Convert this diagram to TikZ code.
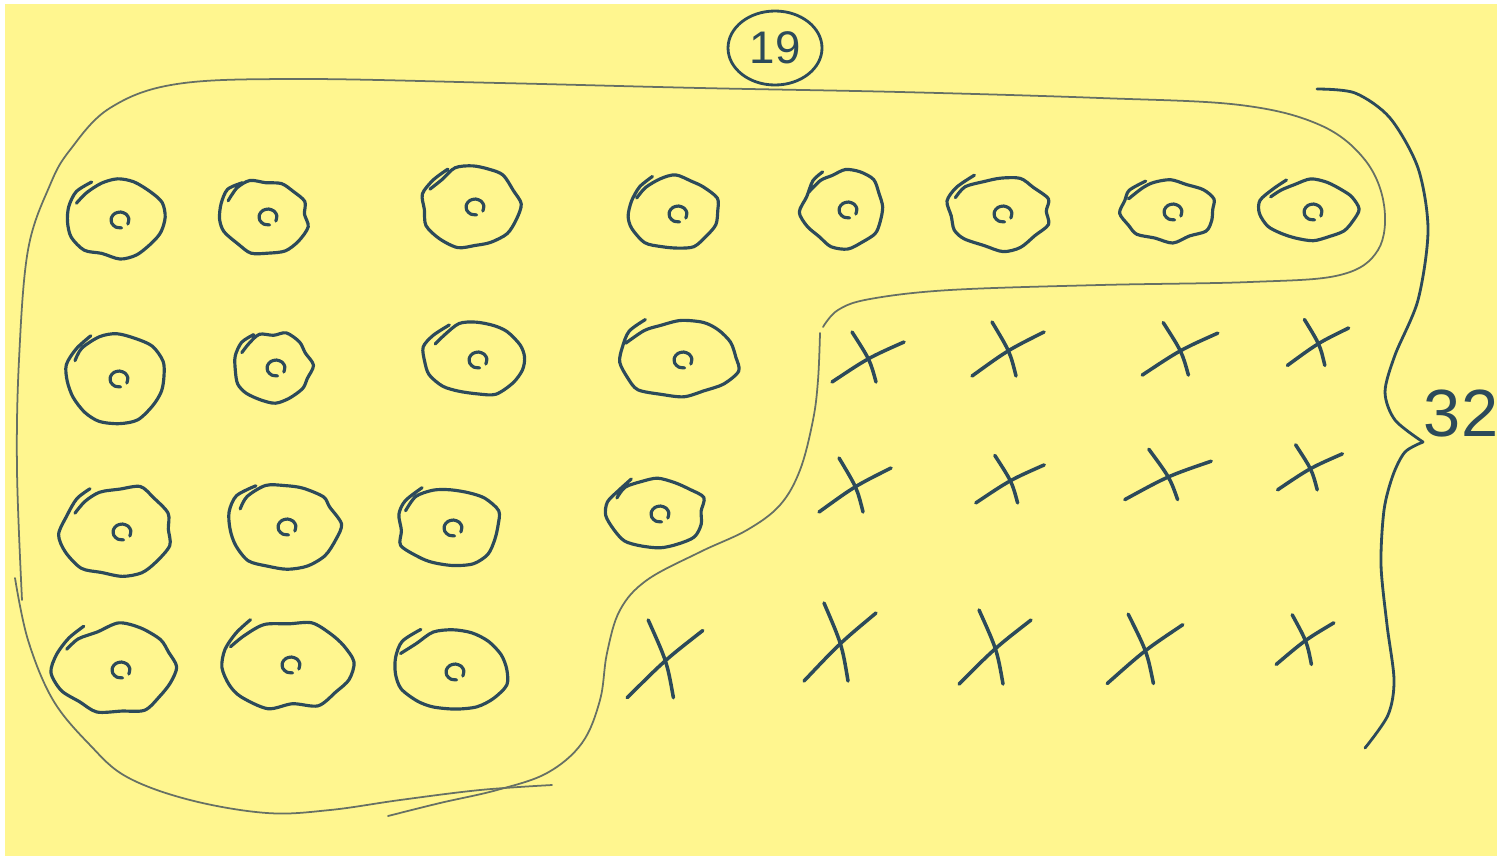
\documentclass[tikz,border=0pt]{standalone}
\usepackage{fontspec}
\setsansfont{Liberation Sans}
\usepackage{tikz}
\usetikzlibrary{shapes.geometric}
\definecolor{paper}{HTML}{FFF68F}
\definecolor{ink}{HTML}{2C4A5A}
\definecolor{pencil}{HTML}{667064}
\tikzset{
  blob/.style={draw=ink,line width=0.9pt,line cap=round,line join=round},
  xstroke/.style={draw=ink,line width=1pt,line cap=round},
  lasso/.style={draw=pencil,line width=0.5pt,line cap=round},
  brace/.style={draw=ink,line width=0.8pt,line cap=round},
  tally/.style={font=\sffamily,text=ink,inner sep=0pt}
}
\begin{document}
\begin{tikzpicture}[x=0.1mm,y=-0.1mm]
  \pgfmathsetseed{11}
  \fill[white] (0,0) rectangle (1501,862);
  \fill[paper] (5,4) rectangle (1497,856);
  \useasboundingbox (0,0) rectangle (1501,862);
  % the 19 circled items
  \foreach \x/\y/\rx/\ry [count=\i] in {117/218/48/40,265/215/45/38,472/205/48/42,675/212/45/38,
      845/208/42/40,1000/212/52/38,1170/210/48/32,1310/210/48/32,
      116/377/51/45,273/366/40/36,475/358/50/38,680/358/62/40,
      119/530/56/47,284/525/56/45,450/526/52/41,657/512/50/36,
      118/668/63/46,288/663/68/45,452/670/58/42}{
    \coordinate (o\i) at (\x,\y);
    \draw[blob] plot[smooth,variable=\a,samples=19,domain=205:600]
      ({\x+\rx*cos(\a)*(0.9+0.14*(\a-205)/395+0.08*rand)},{\y+\ry*sin(\a)*(0.9+0.14*(\a-205)/395+0.08*rand)});
    \draw[blob] plot[smooth,variable=\a,samples=9,domain=80:390]
      ({\x+3+9*cos(\a)},{\y+2+8*sin(\a)});
  }
  % the 13 crossed ones
  \foreach \x/\y/\s/\q [count=\i] in {868/360/1/0,1008/352/1/2,1180/352/1.05/0,1318/345/0.85/2,
      855/488/1/2,1010/482/0.95/0,1168/478/1.2/-4,1310/470/0.9/0,
      665/662/1.05/12,840/645/1/14,995/650/1/12,1145/652/1.05/8,1305/642/0.8/6}{
    \coordinate (x\i) at (\x,\y);
    \draw[xstroke] ({\x-36*\s},{\y+(22+\q)*\s}) .. controls ({\x},{\y-2}) .. ({\x+36*\s},{\y-(18+\q)*\s});
    \draw[xstroke] ({\x-16*\s},{\y-(28+\q)*\s}) .. controls ({\x+2},{\y}) .. ({\x+8*\s},{\y+(22+\q)*\s});
  }
  % lasso round the circled items
  \draw[lasso] plot[smooth,tension=0.6] coordinates {(22,600) (17,470) (19,360) (28,250) (50,185)
    (70,150) (110,108) (177,84) (300,79) (500,83) (700,88) (900,92) (1100,98) (1240,105)
    (1320,125) (1365,160) (1384,205) (1378,250) (1340,275) (1250,282) (1100,285) (950,290)
    (870,299) (838,310) (823,327)};
  \draw[lasso] plot[smooth,tension=0.6] coordinates {(820,333) (818,380) (813,420) (800,470)
    (780,505) (747,530) (700,552) (647,580) (620,610) (607,653) (600,700) (582,743) (547,773)
    (497,790) (440,803) (388,816)};
  \draw[lasso] plot[smooth,tension=0.6] coordinates {(15,578) (28,640) (53,700) (90,745)
    (127,777) (190,800) (267,813) (330,810) (400,800) (480,790) (552,785)};
  % counts
  \node[tally,draw=ink,line width=0.8pt,ellipse,minimum width=9.4mm,minimum height=7.4mm,
    font=\sffamily\fontsize{13}{13}\selectfont] (total) at (775,48) {19};
  \coordinate (tip) at (1423,442);
  \draw[brace] plot[smooth] coordinates {(1317,89) (1355,93) (1390,118) (1418,168) (1428,230)
    (1418,300) (1395,355) (1385,392) (1395,420) (tip)};
  \draw[brace] plot[smooth] coordinates {(tip) (1405,452) (1393,475) (1384,510) (1381,565)
    (1387,625) (1394,680) (1388,715) (1365,748)};
  \node[tally,font=\sffamily\fontsize{19}{19}\selectfont] (sum) at (1461,413) {32};
\end{tikzpicture}
\end{document}
